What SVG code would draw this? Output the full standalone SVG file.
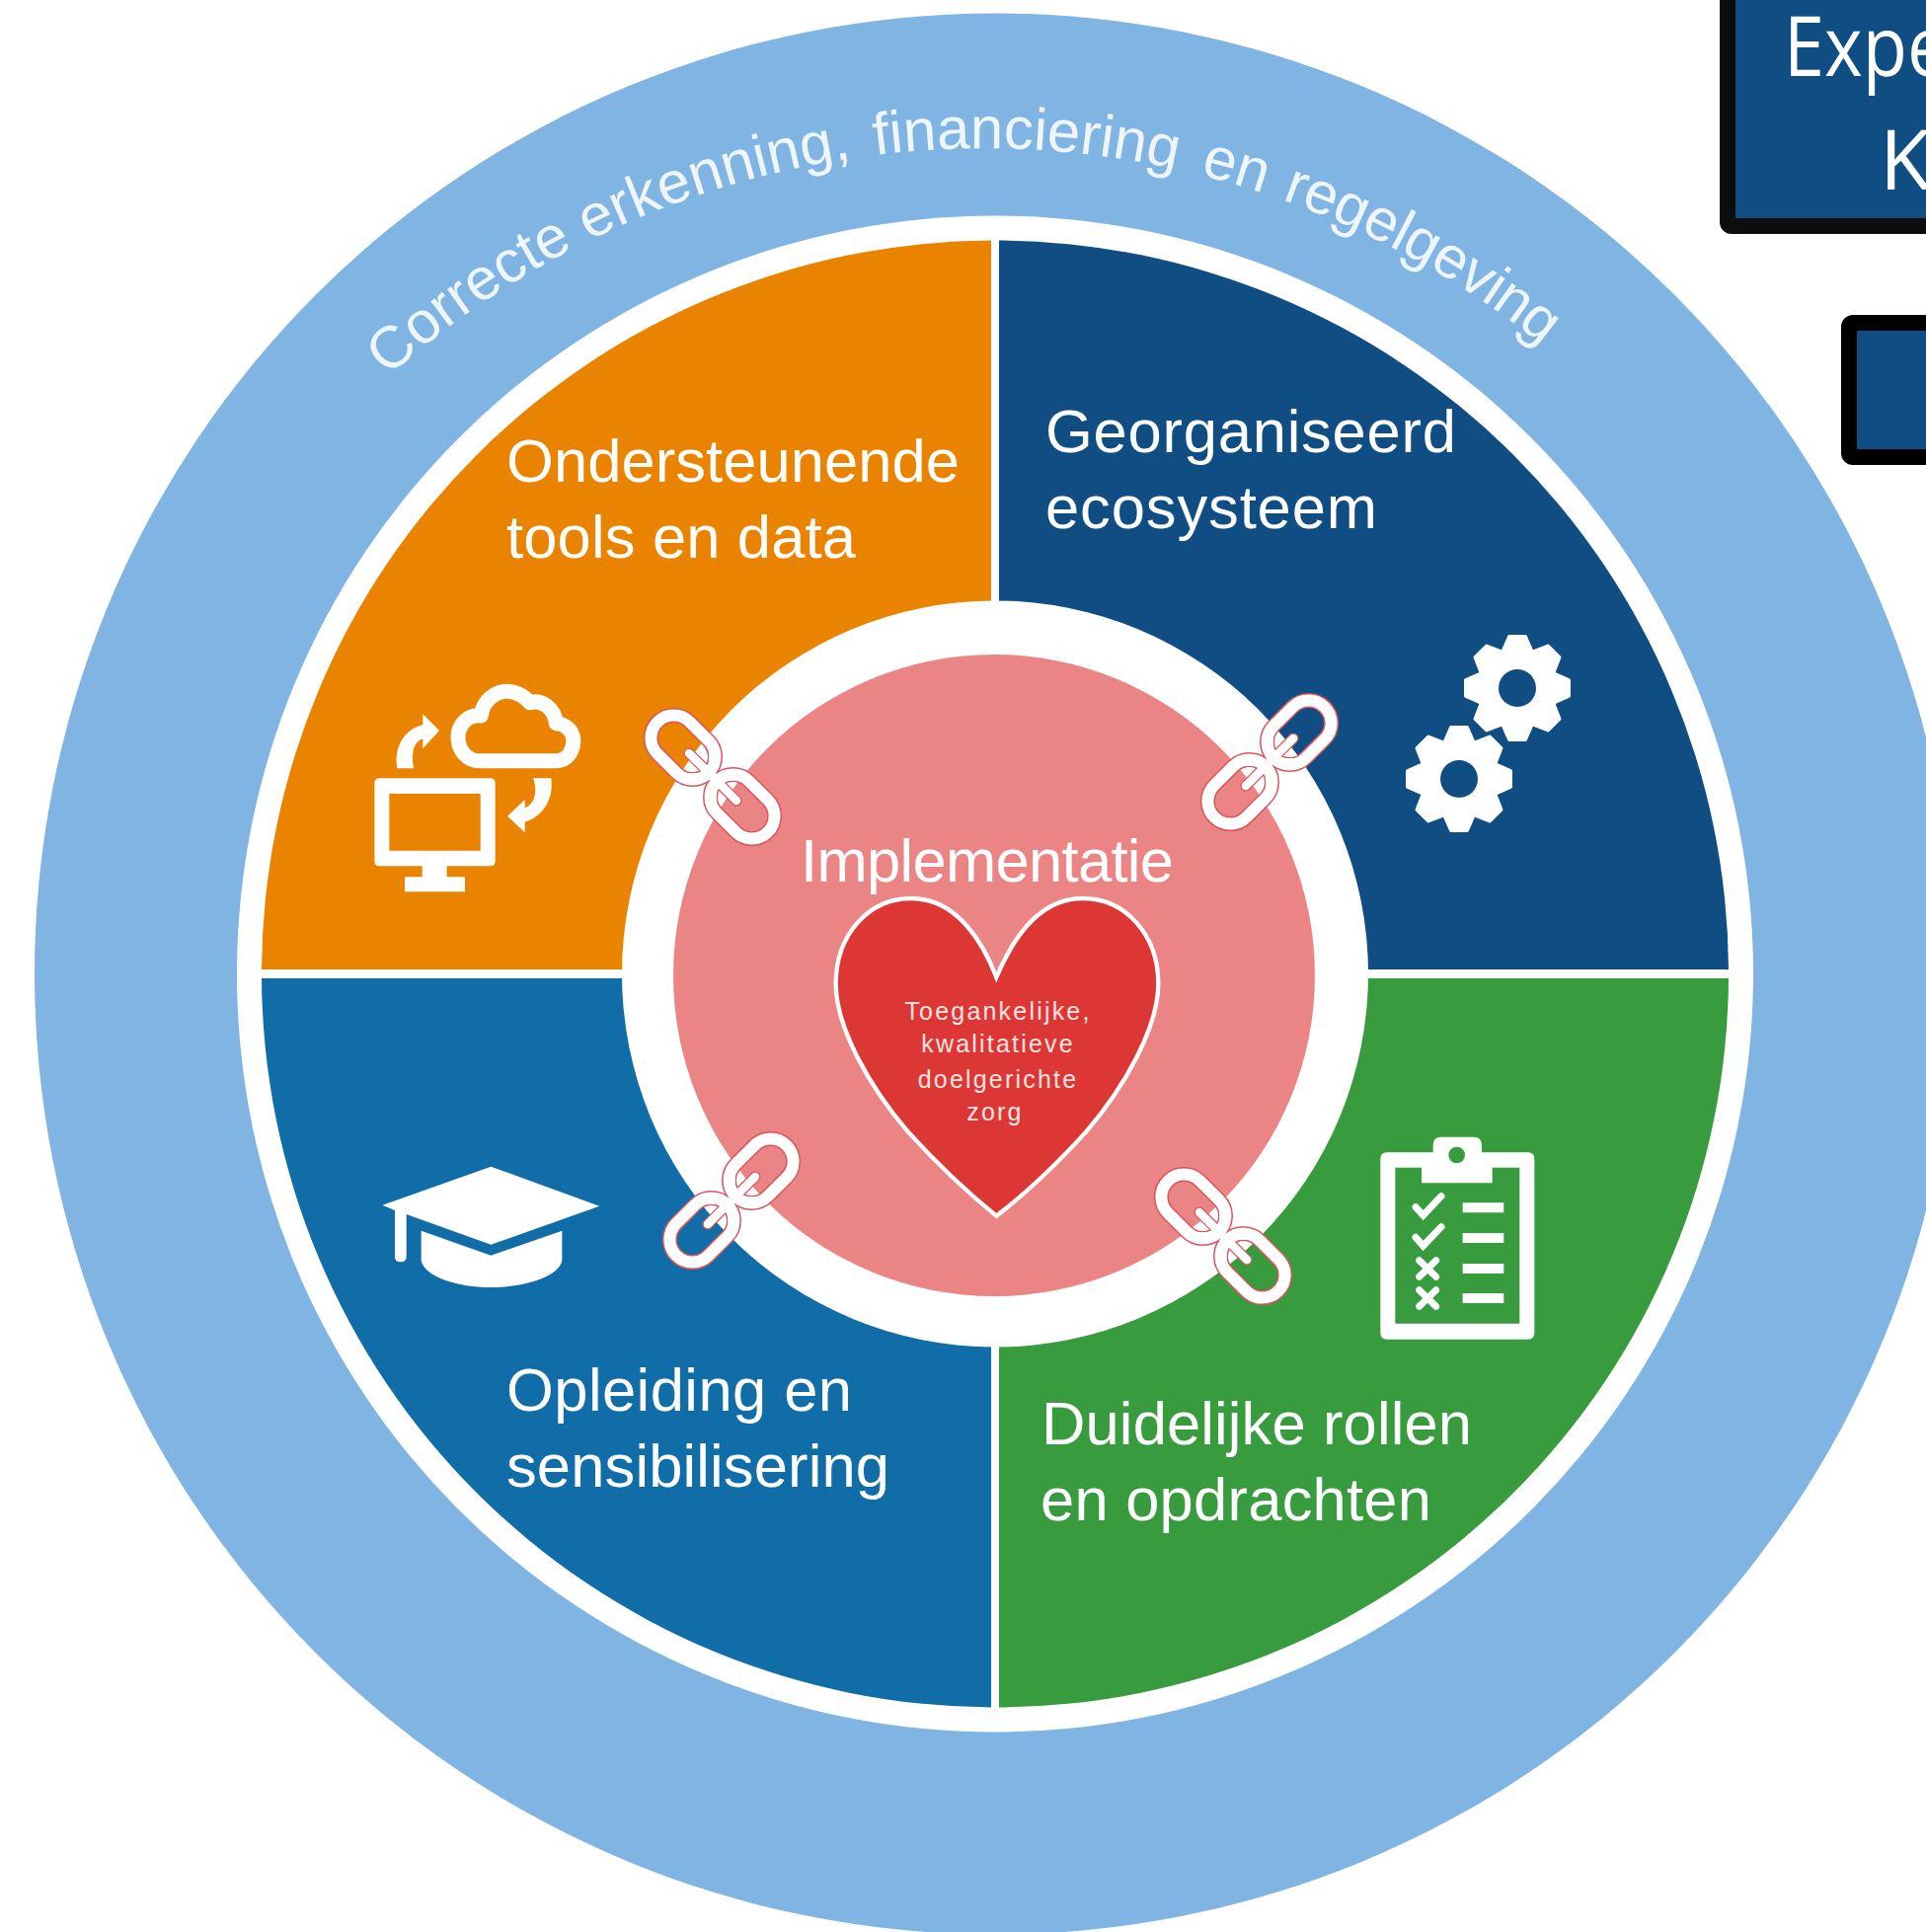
<svg xmlns="http://www.w3.org/2000/svg" xmlns:xlink="http://www.w3.org/1999/xlink" width="1951" height="1957" viewBox="0 0 1951 1957">
<style>
.t{font-family:"Liberation Sans",Arial,sans-serif;font-size:61.5px;fill:#fff}
.s{font-family:"Liberation Sans",Arial,sans-serif;font-size:25px;fill:#fbe3e3;text-anchor:middle;letter-spacing:2.2px}
.b{font-family:"Open Sans",sans-serif;font-size:84px;fill:#fff}
.w{fill:#fff}
.ln{fill:none;stroke:#fff;stroke-linecap:round}
</style>
<defs>
<g id="tooth"><polygon points="-15,-36 -8,-52 8,-52 15,-36" fill="#fff" stroke="#fff" stroke-width="4" stroke-linejoin="round"/></g>
<g id="gearb">
<circle r="40" fill="#fff"/>
<use xlink:href="#tooth"/><use xlink:href="#tooth" transform="rotate(45)"/><use xlink:href="#tooth" transform="rotate(90)"/><use xlink:href="#tooth" transform="rotate(135)"/><use xlink:href="#tooth" transform="rotate(180)"/><use xlink:href="#tooth" transform="rotate(225)"/><use xlink:href="#tooth" transform="rotate(270)"/><use xlink:href="#tooth" transform="rotate(315)"/>
<circle r="19" fill="#0F4D82"/>
</g>
<g id="link">
<g fill="none" stroke="#d9555a" stroke-width="15">
<rect x="-79" y="-23" width="73" height="46" rx="23"/>
<rect x="6" y="-23" width="73" height="46" rx="23"/>
</g>
<path d="M-34 0H34" stroke="#d9555a" stroke-width="11" stroke-linecap="round"/>
<g fill="none" stroke="#fff" stroke-width="12">
<rect x="-79" y="-23" width="73" height="46" rx="23"/>
<rect x="6" y="-23" width="73" height="46" rx="23"/>
</g>
<path d="M-34 0H34" stroke="#fff" stroke-width="8.5" stroke-linecap="round"/>
<path d="M-11 -5V-11Q-13 -17 -22 -17ZM-11 5V11Q-13 17 -22 17ZM11 -5V-11Q13 -17 22 -17ZM11 5V11Q13 17 22 17Z" fill="#fff"/>
</g>
</defs>
<rect width="1951" height="1957" fill="#fff"/>

<g id="box-top"><rect x="1750" y="-20" width="240" height="249" rx="4" fill="#0F4D82" stroke="#0d0d0d" stroke-width="16"/>
<text class="b" transform="translate(1807 77) scale(.88 1)">Expe</text><text class="b" x="1904" y="192">K</text></g>
<g id="box-small"><rect x="1873" y="327" width="120" height="136" rx="4" fill="#0F4D82" stroke="#000" stroke-width="16"/></g>

<g id="outer-ring"><circle cx="1008" cy="986.5" r="973" fill="#80B4E3"/>
<path id="arc" d="M393 382A901.6 901.6 0 0 1 1565 352" fill="none"/>
<text font-family="Liberation Sans, Arial, sans-serif" font-size="60" fill="#eef5fb"><textPath xlink:href="#arc">Correcte erkenning, <tspan dx="7">financiering</tspan> <tspan dx="8">en</tspan> <tspan dx="3" letter-spacing="-0.6">regelgeving</tspan></textPath></text>
<circle cx="1008" cy="986.5" r="768" fill="#fff"/></g>

<g id="q-orange"><path d="M1004 982H265A743 743 0 0 1 1004 243.5Z" fill="#E98300"/>
<text class="t" x="513" y="488" textLength="459">Ondersteunende</text><text class="t" x="513" y="565" textLength="354">tools en data</text>
<g transform="translate(340 660) scale(.33333)">
<path d="M435 332H670C705 332 725 300 722 265C718 235 695 220 670 218C665 170 625 145 590 155C565 125 520 110 485 130C460 145 445 165 442 195C400 190 372 225 372 260C372 300 400 332 435 332Z" fill="none" stroke="#fff" stroke-width="45" stroke-linejoin="round"/>
<path class="w" d="M187 355C175 290 210 235 265 222V190L315 240L265 295V265C235 275 228 315 238 355Z"/>
<path class="w" d="M600 385H655C665 450 625 505 575 518V550L522 500L575 450V475C605 465 615 425 600 385Z"/>
<path class="w" fill-rule="evenodd" d="M133 385H470Q485 385 485 400V637Q485 652 470 652H338V685H393V730H210V685H263V652H133Q118 652 118 637V400Q118 385 133 385ZM163 432V605H440V432Z"/>
</g></g>

<g id="q-darkblue"><path d="M1012 982H1751A743 743 0 0 0 1012 243.5Z" fill="#0F4D82"/>
<text class="t" x="1059" y="458" textLength="416">Georganiseerd</text><text class="t" x="1059" y="535" textLength="336">ecosysteem</text>
<use xlink:href="#gearb" x="1537" y="697"/><use xlink:href="#gearb" x="1478" y="789"/></g>

<g id="q-green"><path d="M1012 991H1751A743 743 0 0 1 1012 1729.5Z" fill="#389B3E"/>
<text class="t" x="1055" y="1463" textLength="436">Duidelijke rollen</text><text class="t" x="1054" y="1540" textLength="396">en opdrachten</text>
<g transform="translate(1140 1130) scale(.33333)">
<path class="w" fill-rule="evenodd" d="M795 112H935V90Q935 65 960 65H1058Q1083 65 1083 90V112H1223Q1243 112 1243 132V660Q1243 680 1223 680H795Q775 680 775 660V132Q775 112 795 112ZM820 158V632H1198V158H1115V205H900V158ZM1007 95A25 25 0 1 0 1007 145A25 25 0 1 0 1007 95Z"/>
<path class="ln" stroke-width="21" d="M882 278L905 303L960 245M882 370L905 396L960 338M893 440L944 490M944 440L893 490M893 530L944 580M944 530L893 580" stroke-linecap="butt"/>
<path class="w" d="M1025 265H1150V295H1025ZM1025 357H1150V387H1025ZM1025 450H1150V480H1025ZM1025 540H1150V570H1025Z"/>
</g></g>

<g id="q-blue"><path d="M1004 991H265A743 743 0 0 0 1004 1729.5Z" fill="#106DA8"/>
<text class="t" x="513" y="1429" textLength="350">Opleiding en</text><text class="t" x="513" y="1506" textLength="388">sensibilisering</text>
<g transform="translate(370 1130) scale(.33333)">
<path class="w" d="M382 155L712 275L382 392L125 300V430Q125 445 107 445Q90 445 90 430V288L52 272Z"/>
<path class="w" d="M170 350L382 425L598 350V440C590 490 480 522 382 522C280 522 180 490 170 440Z"/>
</g></g>

<g id="center"><circle cx="1008" cy="986.5" r="378" fill="#fff"/><circle cx="1007" cy="988" r="325" fill="#EB8585"/>
<text class="t" x="811" y="893" textLength="378">Implementatie</text>
<path transform="translate(820 890) scale(.33333)" d="M568 300C530 200 450 60 310 60C180 60 80 170 80 320C80 450 180 630 300 770C400 880 500 970 568 1025C640 970 740 880 840 770C960 630 1060 450 1060 320C1060 170 960 60 830 60C690 60 610 200 568 300Z" fill="#DC3734" stroke="#fff" stroke-width="13"/>
<text class="s" x="1011" y="1033">Toegankelijke,</text><text class="s" x="1011" y="1066">kwalitatieve</text><text class="s" x="1011" y="1102">doelgerichte</text><text class="s" x="1008" y="1135">zorg</text></g>

<g id="connectors">
<use xlink:href="#link" transform="translate(722 787) rotate(45)"/>
<use xlink:href="#link" transform="translate(1286 772) rotate(-45)"/>
<use xlink:href="#link" transform="translate(1239 1252) rotate(45)"/>
<use xlink:href="#link" transform="translate(741 1216) rotate(-45)"/>
</g>
</svg>
